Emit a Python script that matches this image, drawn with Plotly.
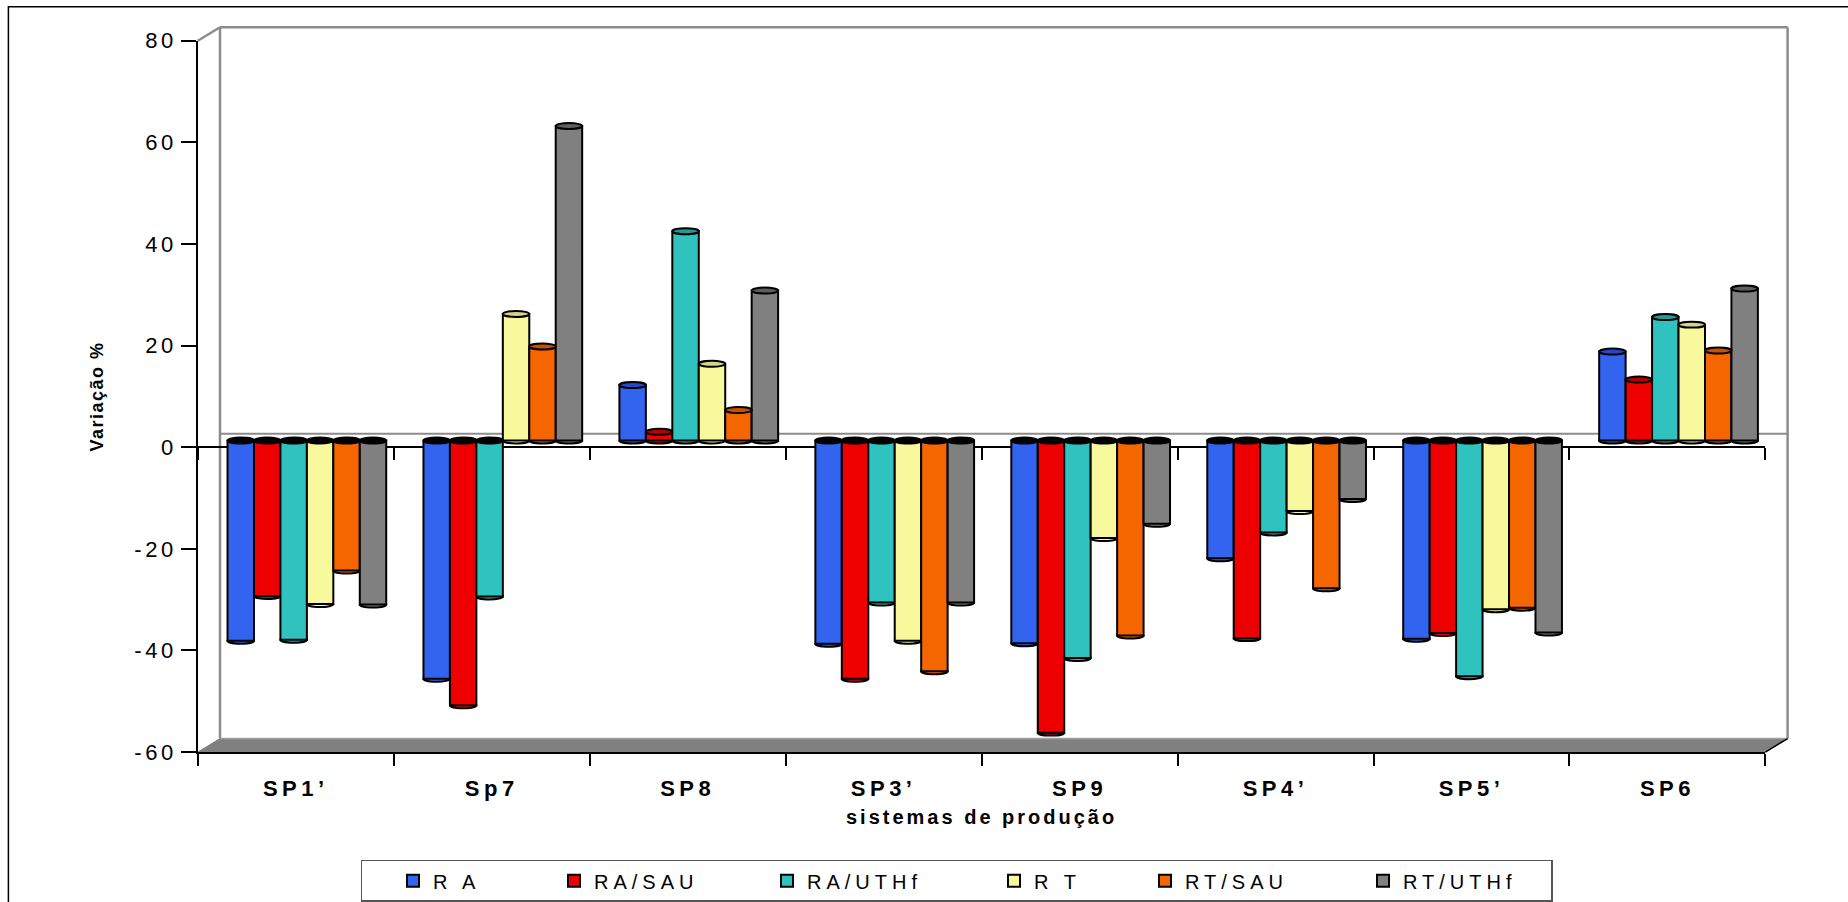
import plotly.graph_objects as go

# ---- data -------------------------------------------------------------
categories = ["SP1’", "Sp7", "SP8", "SP3’", "SP9", "SP4’", "SP5’", "SP6"]
series_names = ["R A", "RA/SAU", "RA/UTHf", "R T", "RT/SAU", "RT/UTHf"]

ra = [-39.4, -46.9, 10.9, -40.0, -39.9, -23.2, -39.0, 17.5]
ra_sau = [-30.6, -52.1, 1.7, -46.9, -57.5, -38.9, -37.9, 12.0]
ra_uthf = [-39.2, -30.7, 41.2, -31.9, -42.8, -18.1, -46.4, 24.3]
rt = [-32.2, 24.9, 15.1, -39.4, -19.2, -13.9, -33.2, 22.8]
rt_sau = [-25.6, 18.5, 6.0, -45.4, -38.4, -29.1, -32.9, 17.7]
rt_uthf = [-32.3, 61.9, 29.5, -31.9, -16.4, -11.5, -37.8, 29.9]
series_values = [ra, ra_sau, ra_uthf, rt, rt_sau, rt_uthf]

y_tick_values = [-60, -40, -20, 0, 20, 40, 60, 80]
y_tick_labels = ["-60", "-40", "-20", "0", "20", "40", "60", "80"]

x_title = "sistemas de produção"
y_title = "Variação %"

# ---- style ------------------------------------------------------------
fill_colors = ["#3264F0", "#EE0000", "#30C2BE", "#F8F89C", "#F56600", "#808080"]
cap_colors = ["#2448C8", "#B80000", "#229A96", "#D6D28A", "#C85000", "#5E5E5E"]
legend_widths = [85, 137, 151, 75, 142, 143]
LEGEND_INDENT = 31
FONT = "Liberation Sans, Arial, sans-serif"

W, H = 1848, 902
X_LEFT, X_RIGHT = 197.8, 1765.4      # front edge of the box
Y_TOP, Y_BOTTOM = 41.0, 756.3        # front axis at 80 and -60
DX, DY = 22.2, 13.6                  # depth of the box (back wall offset)
Y_MIN, Y_MAX = -60, 80
BARGAP = 0.19
WALL = "#8C8C8C"


def fx(px):
    return px / W


def fy(py):
    return 1 - py / H


def spaced(text, px, bold=False):
    s = f'<span style="letter-spacing:{px}px">{text}</span>'
    return f"<b>{s}</b>" if bold else s


n_cat = len(categories)
n_ser = len(series_names)
cat_px = (X_RIGHT - X_LEFT) / n_cat
unit_px = (Y_BOTTOM - Y_TOP) / (Y_MAX - Y_MIN)
zero_px = Y_TOP + Y_MAX * unit_px

# the columns stand half way between the front edge and the back wall
shift_x = (DX / 2) / cat_px
shift_y = (DY / 2) / unit_px

fig = go.Figure()

for j, name in enumerate(series_names):
    fig.add_trace(go.Bar(
        x=categories,
        y=series_values[j],
        name=spaced(name, 5),
        marker=dict(color=fill_colors[j], line=dict(color="black", width=2)),
        xaxis="x2",
        yaxis="y2",
        legendwidth=legend_widths[j],
        hoverinfo="skip",
    ))

# empty carriers so the front axes and the zero-line ticks get drawn
fig.add_trace(go.Scatter(x=[None], y=[None], xaxis="x", yaxis="y",
                         showlegend=False, hoverinfo="skip"))
fig.add_trace(go.Scatter(x=[None], y=[None], xaxis="x3", yaxis="y",
                         showlegend=False, hoverinfo="skip"))

shapes = []

# floor and back wall of the 3-D box
floor_path = (
    f"M {fx(X_LEFT)},{fy(Y_BOTTOM)} "
    f"L {fx(X_LEFT + DX)},{fy(Y_BOTTOM - DY)} "
    f"L {fx(X_RIGHT + DX)},{fy(Y_BOTTOM - DY)} "
    f"L {fx(X_RIGHT)},{fy(Y_BOTTOM)} Z"
)
shapes.append(dict(type="path", xref="paper", yref="paper", path=floor_path,
                   fillcolor="#808080", line=dict(color="#808080", width=1),
                   layer="below"))


def wall_line(x0, y0, x1, y1, color=WALL, width=2.5):
    return dict(type="line", xref="paper", yref="paper",
                x0=fx(x0), y0=fy(y0), x1=fx(x1), y1=fy(y1),
                line=dict(color=color, width=width), layer="below")


shapes += [
    wall_line(X_LEFT + DX, Y_TOP - DY, X_RIGHT + DX, Y_TOP - DY),
    wall_line(X_LEFT + DX, Y_TOP - DY, X_LEFT + DX, Y_BOTTOM - DY),
    wall_line(X_RIGHT + DX, Y_TOP - DY, X_RIGHT + DX, Y_BOTTOM - DY),
    wall_line(X_LEFT + DX, zero_px - DY, X_RIGHT + DX, zero_px - DY, width=2),
    wall_line(X_LEFT, Y_TOP, X_LEFT + DX, Y_TOP - DY),
    wall_line(X_LEFT + DX, Y_BOTTOM - DY, X_RIGHT + DX, Y_BOTTOM - DY, color="#A0A0A0", width=1.5),
    wall_line(X_RIGHT, Y_BOTTOM, X_RIGHT + DX, Y_BOTTOM - DY, color="black", width=1.5),
]

# outer frame of the chart
shapes.append(dict(type="rect", xref="paper", yref="paper",
                   x0=fx(8.4), y0=-0.05, x1=1.05, y1=fy(6.7),
                   line=dict(color="black", width=1.5), layer="below"))

# elliptical ends that turn the columns into cylinders
bar_w = (1 - BARGAP) / n_ser
cap_h = 6 / unit_px
for i in range(n_cat):
    for j in range(n_ser):
        v = series_values[j][i]
        xc = i - (1 - BARGAP) / 2 + (j + 0.5) * bar_w
        x0, x1 = xc - bar_w / 2, xc + bar_w / 2
        if v >= 0:
            bottom_y, top_y, top_fill = 0, v, cap_colors[j]
        else:
            bottom_y, top_y, top_fill = v, 0, "black"
        shapes.append(dict(type="circle", xref="x2", yref="y2",
                           x0=x0, x1=x1, y0=bottom_y - cap_h / 2, y1=bottom_y + cap_h / 2,
                           fillcolor=fill_colors[j], line=dict(color="black", width=2),
                           layer="below"))
        shapes.append(dict(type="circle", xref="x2", yref="y2",
                           x0=x0, x1=x1, y0=top_y - cap_h / 2, y1=top_y + cap_h / 2,
                           fillcolor=top_fill, line=dict(color="black", width=2),
                           layer="above"))

boundaries = [k - 0.5 for k in range(n_cat + 1)]
x_dom = [fx(X_LEFT), fx(X_RIGHT)]
y_dom = [fy(Y_BOTTOM), fy(Y_TOP)]

fig.update_layout(
    template="none",
    width=W,
    height=H,
    margin=dict(l=0, r=0, t=0, b=0),
    paper_bgcolor="white",
    plot_bgcolor="rgba(0,0,0,0)",
    font=dict(family=FONT, color="black"),
    barmode="group",
    bargap=BARGAP,
    bargroupgap=0,
    shapes=shapes,
    showlegend=True,
    legend=dict(
        orientation="h",
        x=fx(360.5), xanchor="left",
        y=fy(864.5), yanchor="top",
        bgcolor="white",
        bordercolor="#555555",
        borderwidth=1.5,
        font=dict(family=FONT, size=20, color="black"),
        indentation=LEGEND_INDENT,
        traceorder="normal",
    ),
    xaxis=dict(
        domain=x_dom, anchor="y", type="linear",
        range=[-0.5, n_cat - 0.5],
        tickmode="array",
        tickvals=list(range(n_cat)),
        ticktext=[spaced(c, 4.5, bold=True) for c in categories],
        ticks="", ticklabelstandoff=16,
        tickfont=dict(family=FONT, size=22, color="black"),
        minor=dict(tickmode="array", tickvals=boundaries, ticks="outside",
                   ticklen=12, tickwidth=1.5, tickcolor="black", showgrid=False),
        showline=True, linecolor="black", linewidth=1.5,
        showgrid=False, zeroline=False, automargin=False,
        title=dict(text=spaced(x_title, 3, bold=True),
                   font=dict(family=FONT, size=20, color="black"), standoff=10),
    ),
    yaxis=dict(
        domain=y_dom, anchor="x",
        range=[Y_MIN, Y_MAX],
        tickmode="array",
        tickvals=y_tick_values,
        ticktext=[spaced(t, 3.5) for t in y_tick_labels],
        ticks="outside", ticklen=15, tickwidth=1.5, tickcolor="black",
        tickfont=dict(family=FONT, size=22, color="black"),
        showline=True, linecolor="black", linewidth=1.5,
        zeroline=True, zerolinecolor="black", zerolinewidth=1.5,
        showgrid=False, automargin=False,
        title=dict(text=spaced(y_title, 1.5, bold=True),
                   font=dict(family=FONT, size=18, color="black"), standoff=26),
    ),
    xaxis2=dict(
        overlaying="x", anchor="y2", type="category",
        categoryorder="array", categoryarray=categories,
        range=[-0.5 - shift_x, n_cat - 0.5 - shift_x],
        visible=False, showgrid=False, zeroline=False,
    ),
    yaxis2=dict(
        overlaying="y", anchor="x2",
        range=[Y_MIN - shift_y, Y_MAX - shift_y],
        visible=False, showgrid=False, zeroline=False,
    ),
    xaxis3=dict(
        overlaying="x", anchor="free", position=fy(zero_px), type="linear",
        range=[-0.5, n_cat - 0.5],
        tickmode="array", tickvals=boundaries,
        ticks="outside", ticklen=12, tickwidth=1.5, tickcolor="black",
        showticklabels=False, showline=False, showgrid=False, zeroline=False,
        automargin=False,
    ),
)

fig.write_html("out.html")
